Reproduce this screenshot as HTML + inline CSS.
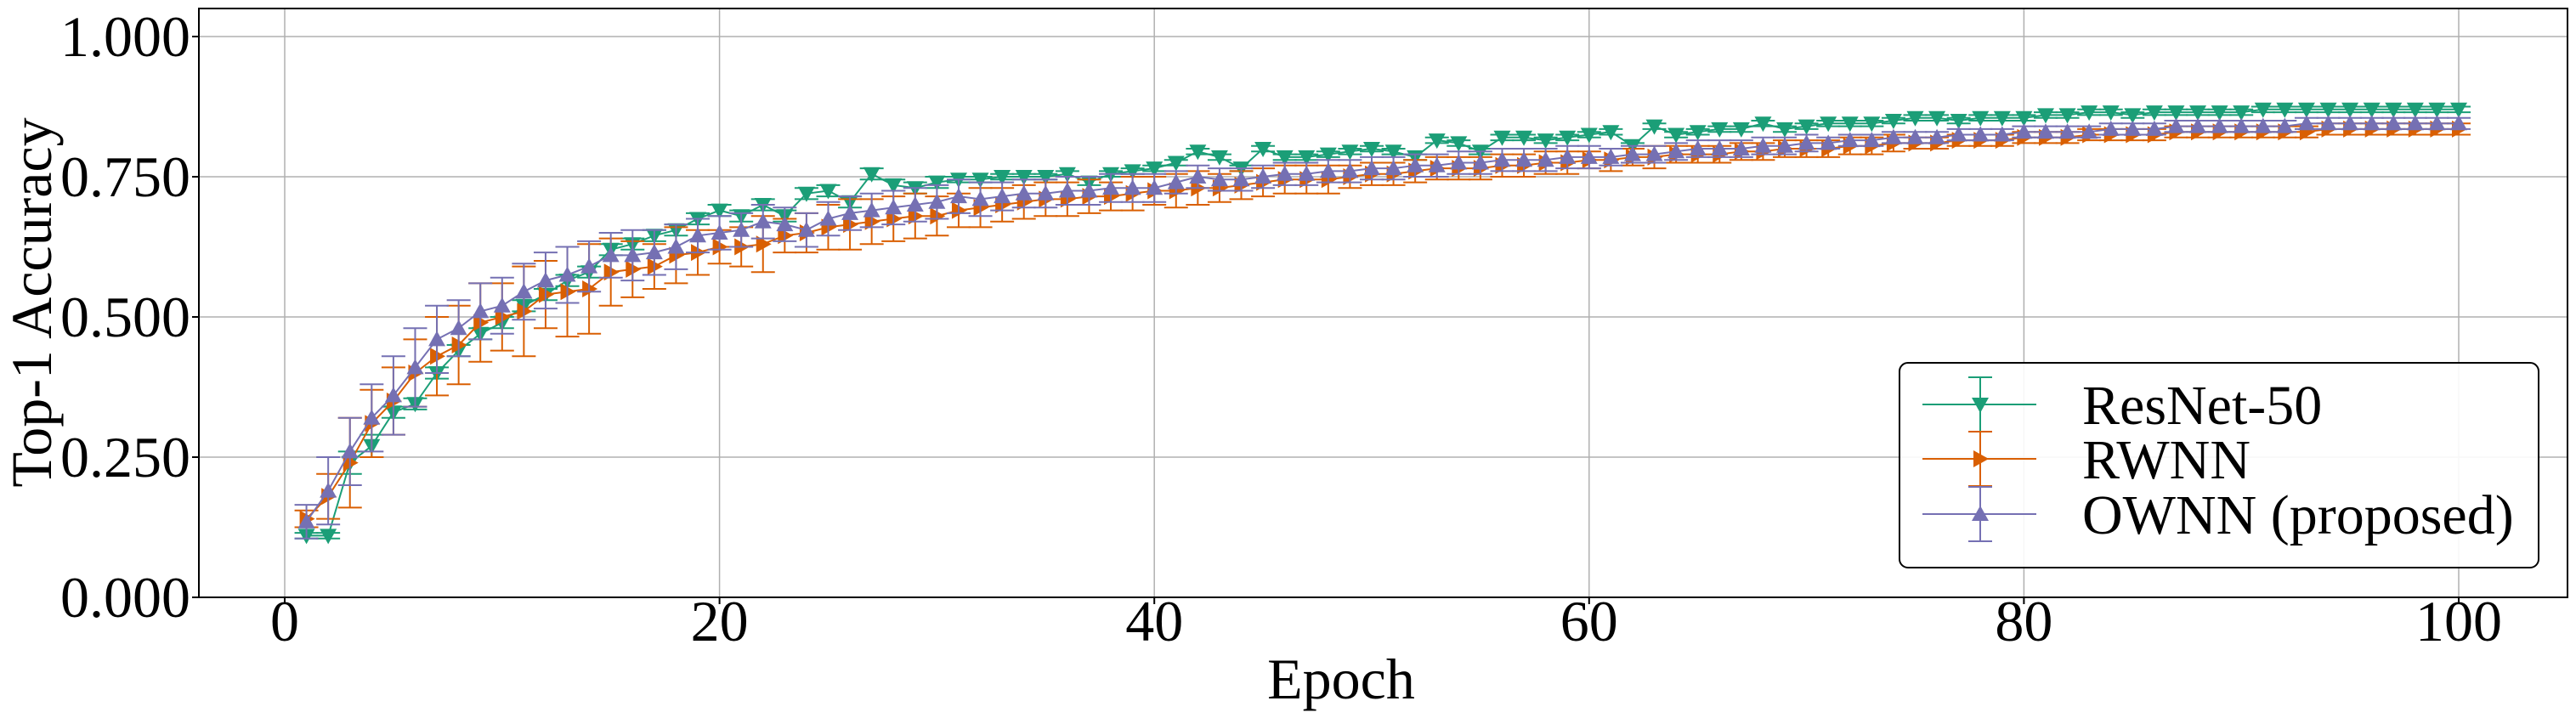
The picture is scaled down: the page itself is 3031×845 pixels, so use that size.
<!DOCTYPE html>
<html><head><meta charset="utf-8"><style>
html,body{margin:0;padding:0;background:#fff;}
svg{display:block;font-family:"Liberation Serif",serif;}
</style></head><body>
<svg id="chart" width="3031" height="845" viewBox="0 0 3031 845" xmlns="http://www.w3.org/2000/svg">
<g id="grid"></g>
<g id="series"></g>
<rect x="234" y="10" width="2787" height="693" fill="none" stroke="#000" stroke-width="2"/>
<g id="ticks"></g>
<text transform="translate(60,356) rotate(-90)" text-anchor="middle" font-size="68">Top-1 Accuracy</text>
<text x="1578" y="822" text-anchor="middle" font-size="68">Epoch</text>
<g id="legend">
<rect x="2235" y="427" width="752" height="241" rx="10" fill="#fff" fill-opacity="0.9" stroke="#000" stroke-width="2"/>
</g>
</svg>
<script>
const epochs = Array.from({length:100},(_, i)=>i+1);
const xTicks = [0,20,40,60,80,100];
const yTicks = [0,0.25,0.5,0.75,1.0];
const yTickLabels = ["0.000","0.250","0.500","0.750","1.000"];
const seriesNames = ["ResNet-50","RWNN","OWNN (proposed)"];
const resnet = [.11,.11,.24,.27,.33,.345,.40,.44,.47,.49,
.52,.54,.565,.58,.62,.63,.645,.655,.675,.69,
.68,.70,.68,.72,.725,.705,.755,.735,.73,.74,
.745,.745,.75,.75,.75,.755,.74,.755,.76,.765,
.775,.795,.785,.765,.80,.785,.785,.79,.795,.80,
.795,.785,.815,.81,.795,.82,.82,.815,.82,.825,
.83,.805,.84,.825,.83,.835,.835,.845,.835,.84,
.845,.845,.845,.85,.855,.855,.85,.855,.855,.855,
.86,.86,.865,.865,.86,.865,.865,.865,.865,.865,
.87,.87,.87,.87,.87,.87,.87,.87,.87,.87];
const rwnn = [.14,.18,.24,.31,.35,.40,.43,.45,.49,.50,
.51,.54,.545,.55,.58,.585,.59,.61,.615,.625,
.625,.63,.645,.65,.66,.665,.67,.675,.68,.68,
.69,.695,.70,.705,.71,.71,.715,.715,.72,.725,
.725,.73,.73,.735,.74,.745,.745,.745,.75,.755,
.755,.76,.765,.765,.765,.77,.77,.775,.775,.78,
.78,.785,.785,.79,.79,.79,.795,.795,.80,.80,
.80,.805,.805,.81,.81,.81,.815,.815,.815,.82,
.82,.82,.825,.825,.825,.825,.83,.83,.83,.83,
.83,.83,.83,.835,.835,.835,.835,.835,.835,.835];
const ownn = [.135,.19,.26,.32,.36,.41,.46,.48,.51,.52,
.545,.565,.575,.59,.61,.61,.615,.625,.645,.65,
.655,.67,.665,.655,.675,.685,.69,.695,.70,.705,
.715,.71,.715,.72,.72,.725,.725,.73,.73,.73,
.74,.75,.745,.745,.75,.755,.755,.76,.76,.765,
.765,.77,.77,.775,.775,.78,.78,.78,.785,.785,
.785,.79,.79,.795,.80,.80,.80,.805,.805,.81,
.81,.815,.815,.82,.82,.82,.825,.825,.825,.83,
.83,.83,.83,.835,.835,.835,.84,.84,.84,.84,
.84,.84,.845,.845,.845,.845,.845,.845,.845,.845];
const resnetErr = [.005,.005,.02,.02,.01,.01,.01,.01,.01,.01,.01,.01,.01,.01,.01,.01,.01,.01,.01,.01,
.01,.01,.01,.01,.01,.01,.01,.01,.01,.01,.005,.005,.005,.005,.005,.005,.005,.005,.005,.005,
.005,.005,.005,.005,.005,.005,.005,.005,.005,.005,.005,.005,.005,.005,.005,.005,.005,.005,.005,.005,
.005,.005,.005,.005,.005,.005,.005,.005,.005,.005,.005,.005,.005,.005,.005,.005,.005,.005,.005,.005,
.005,.005,.005,.005,.005,.005,.005,.005,.005,.005,.005,.005,.005,.005,.005,.005,.005,.005,.005,.005];
const rwnnErr = [.015,.04,.08,.06,.06,.06,.07,.07,.07,.06,.08,.06,.08,.08,.06,.05,.04,.05,.04,.03,
.035,.05,.03,.035,.04,.045,.04,.04,.04,.035,.03,.035,.03,.03,.03,.03,.03,.025,.03,.025,
.03,.03,.025,.025,.025,.025,.025,.025,.02,.02,.02,.02,.02,.02,.02,.02,.02,.02,.02,.015,
.02,.015,.02,.015,.015,.015,.015,.015,.015,.015,.015,.015,.015,.015,.01,.01,.01,.01,.01,.01,
.01,.01,.01,.01,.01,.01,.01,.01,.01,.01,.01,.01,.01,.01,.01,.01,.01,.01,.01,.01];
const ownnErr = [.03,.06,.06,.06,.07,.07,.06,.05,.05,.05,.05,.05,.05,.045,.04,.045,.04,.04,.03,.03,
.03,.03,.03,.03,.03,.03,.03,.03,.03,.03,.03,.03,.025,.025,.025,.025,.025,.025,.025,.025,
.02,.02,.02,.02,.02,.02,.02,.02,.02,.02,.02,.02,.02,.02,.02,.02,.02,.02,.02,.02,
.015,.015,.015,.015,.015,.015,.015,.015,.015,.015,.01,.01,.01,.01,.01,.01,.01,.01,.01,.01,
.01,.01,.01,.01,.01,.01,.01,.01,.01,.01,.01,.01,.01,.01,.01,.01,.01,.01,.01,.01];

const NS="http://www.w3.org/2000/svg";
const L=234,R=3021,T=10,B=703;
function xs(v){return 335+v*25.58;}
function ys(v){return 703-v*660;}
function mk(tag,attrs,parent){const e=document.createElementNS(NS,tag);for(const k in attrs)e.setAttribute(k,attrs[k]);parent.appendChild(e);return e;}
const grid=document.getElementById('grid'),ticks=document.getElementById('ticks'),ser=document.getElementById('series'),leg=document.getElementById('legend');
xTicks.forEach(t=>{
  const g=mk('line',{x1:xs(t),x2:xs(t),y1:T,y2:B,stroke:'#b0b0b0','stroke-width':1.5},grid);
  
  
  const tk=mk('line',{x1:xs(t),x2:xs(t),y1:B,y2:B+8,stroke:'#000','stroke-width':2},ticks);
  
  
  const tx=mk('text',{x:xs(t),y:754,'text-anchor':'middle','font-size':68},ticks);
  tx.textContent=t;
  
  
});
yTicks.forEach((t,i)=>{
  const g=mk('line',{x1:L,x2:R,y1:ys(t),y2:ys(t),stroke:'#b0b0b0','stroke-width':1.5},grid);
  
  
  const tk=mk('line',{x1:L-8,x2:L,y1:ys(t),y2:ys(t),stroke:'#000','stroke-width':2},ticks);
  
  
  const tx=mk('text',{x:224,y:ys(t)+23,'text-anchor':'end','font-size':68},ticks);
  tx.textContent=yTickLabels[i];
  
  
});
function marker(kind,x,y,col,parent){
  const s=10;let p;
  if(kind==='down')p=`${x-s},${y-s*0.8} ${x+s},${y-s*0.8} ${x},${y+s*1.0}`;
  else if(kind==='up')p=`${x-s},${y+s*0.8} ${x+s},${y+s*0.8} ${x},${y-s*1.0}`;
  else p=`${x-s*0.8},${y-s} ${x-s*0.8},${y+s} ${x+s},${y}`;
  return mk('polygon',{points:p,fill:col},parent);
}
const series=[
 {name:'resnet',vals:resnet,err:resnetErr,col:'#1b9e77',m:'down'},
 {name:'rwnn',vals:rwnn,err:rwnnErr,col:'#d95f02',m:'right'},
 {name:'ownn',vals:ownn,err:ownnErr,col:'#7570b3',m:'up'}];
series.forEach(s=>{
  const g=mk('g',{},ser);
  
  
  epochs.forEach((e,i)=>{
    const x=xs(e),y1=ys(s.vals[i]-s.err[i]),y2=ys(s.vals[i]+s.err[i]);
    const eb=mk('path',{d:`M${x},${y1}V${y2}M${x-14},${y1}H${x+14}M${x-14},${y2}H${x+14}`,stroke:s.col,'stroke-width':2,fill:'none'},g);
    
    
  });
  const ln=mk('polyline',{points:epochs.map((e,i)=>xs(e)+','+ys(s.vals[i])).join(' '),stroke:s.col,'stroke-width':2,fill:'none'},g);
  
  
  epochs.forEach((e,i)=>{
    const p=marker(s.m,xs(e),ys(s.vals[i]),s.col,g);
    
    
  });
});
const rows=[476,540,605];
series.forEach((s,i)=>{
  const y=rows[i];
  const g=mk('g',{},leg);
  
  
  mk('path',{d:`M2262,${y}H2396M2330,${y-32}V${y+32}M2316,${y-32}H2344M2316,${y+32}H2344`,stroke:s.col,'stroke-width':2,fill:'none'},g);
  marker(s.m,2330,y,s.col,g);
  const t=mk('text',{x:2450,y:y+23,'font-size':66},g);
  t.textContent=seriesNames[i];
});
</script>
</body></html>
